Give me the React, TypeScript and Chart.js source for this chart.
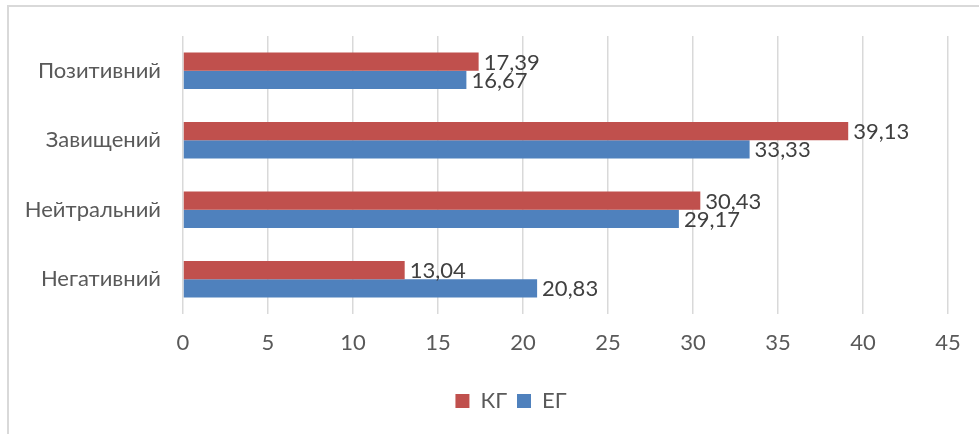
import React, { useEffect, useRef } from "react";
import { Chart, registerables } from "chart.js";

Chart.register(...registerables);

const categories = ["Позитивний", "Завищений", "Нейтральний", "Негативний"];
const kgValues = [17.39, 39.13, 30.43, 13.04];
const egValues = [16.67, 33.33, 29.17, 20.83];
const seriesNames = ["КГ", "ЕГ"];
const xMin = 0;
const xMax = 45;
const xStep = 5;

const FONT = "Lato, 'Noto Sans', sans-serif";
const FS = 22;

const labelPlugin = {
  id: "barLabels",
  afterDatasetsDraw(chart: any) {
    const ctx = chart.ctx;
    ctx.save();
    ctx.font = `${FS}px ${FONT}`;
    ctx.fillStyle = "#404040";
    ctx.textAlign = "left";
    ctx.textBaseline = "middle";
    chart.data.datasets.forEach((ds: any, di: number) => {
      const meta = chart.getDatasetMeta(di);
      meta.data.forEach((bar: any, i: number) => {
        const v = ds.data[i] as number;
        const txt = v.toFixed(2).replace(".", ",");
        ctx.fillText(txt, bar.x + 5, bar.y + 1);
      });
    });
    ctx.restore();
  },
};

const LEGEND_SHIFT = 37;
const legendShift = {
  id: "legendShift",
  afterLayout(chart: any) {
    const lg = chart.legend;
    if (lg) {
      lg.left += LEGEND_SHIFT;
      lg.right += LEGEND_SHIFT;
      if (lg.legendHitBoxes) lg.legendHitBoxes.forEach((b: any) => (b.left += LEGEND_SHIFT));
    }
  },
};

export default function App() {
  const ref = useRef<HTMLCanvasElement | null>(null);

  useEffect(() => {
    if (!ref.current) return;
    const chart = new Chart(ref.current, {
      type: "bar",
      data: {
        labels: categories,
        datasets: [
          {
            label: seriesNames[0],
            data: kgValues,
            backgroundColor: "#C0504D",
            borderWidth: 0,
            categoryPercentage: 0.524,
            barPercentage: 1,
          },
          {
            label: seriesNames[1],
            data: egValues,
            backgroundColor: "#4F81BD",
            borderWidth: 0,
            categoryPercentage: 0.524,
            barPercentage: 1,
          },
        ],
      },
      options: {
        indexAxis: "y",
        animation: false,
        responsive: false,
        maintainAspectRatio: false,
        layout: { padding: { left: 0, right: 31, top: 36, bottom: 12 } },
        plugins: {
          tooltip: { enabled: false },
          legend: {
            position: "bottom",
            labels: {
              boxWidth: 14,
              boxHeight: 14,
              padding: 10,
              color: "#595959",
              font: { family: FONT, size: FS },
            },
          },
        },
        scales: {
          x: {
            min: xMin,
            max: xMax,
            ticks: {
              stepSize: xStep,
              color: "#595959",
              font: { family: FONT, size: FS },
              padding: 16,
            },
            grid: { color: "#d9d9d9", lineWidth: 1.5, drawTicks: false },
            border: { display: false },
            afterFit: (s: any) => {
              s.height = 66;
            },
          },
          y: {
            ticks: {
              color: "#595959",
              font: { family: FONT, size: FS },
              padding: 22,
            },
            grid: { display: false, drawTicks: false },
            border: { display: false },
            afterFit: (s: any) => {
              s.width = 183;
            },
          },
        },
      },
      plugins: [labelPlugin, legendShift],
    });
    return () => chart.destroy();
  }, []);

  return (
    <div style={{ position: "absolute", left: 0, top: 0, width: 979, height: 434, overflow: "hidden", background: "#fff" }}>
      <div
        style={{
          position: "absolute",
          left: 7,
          top: 5,
          width: 1000,
          height: 500,
          borderLeft: "2px solid #d9d9d9",
          borderTop: "2px solid #d9d9d9",
        }}
      />
      <canvas ref={ref} width={979} height={434} style={{ position: "absolute", left: 0, top: 0 }} />
    </div>
  );
}
